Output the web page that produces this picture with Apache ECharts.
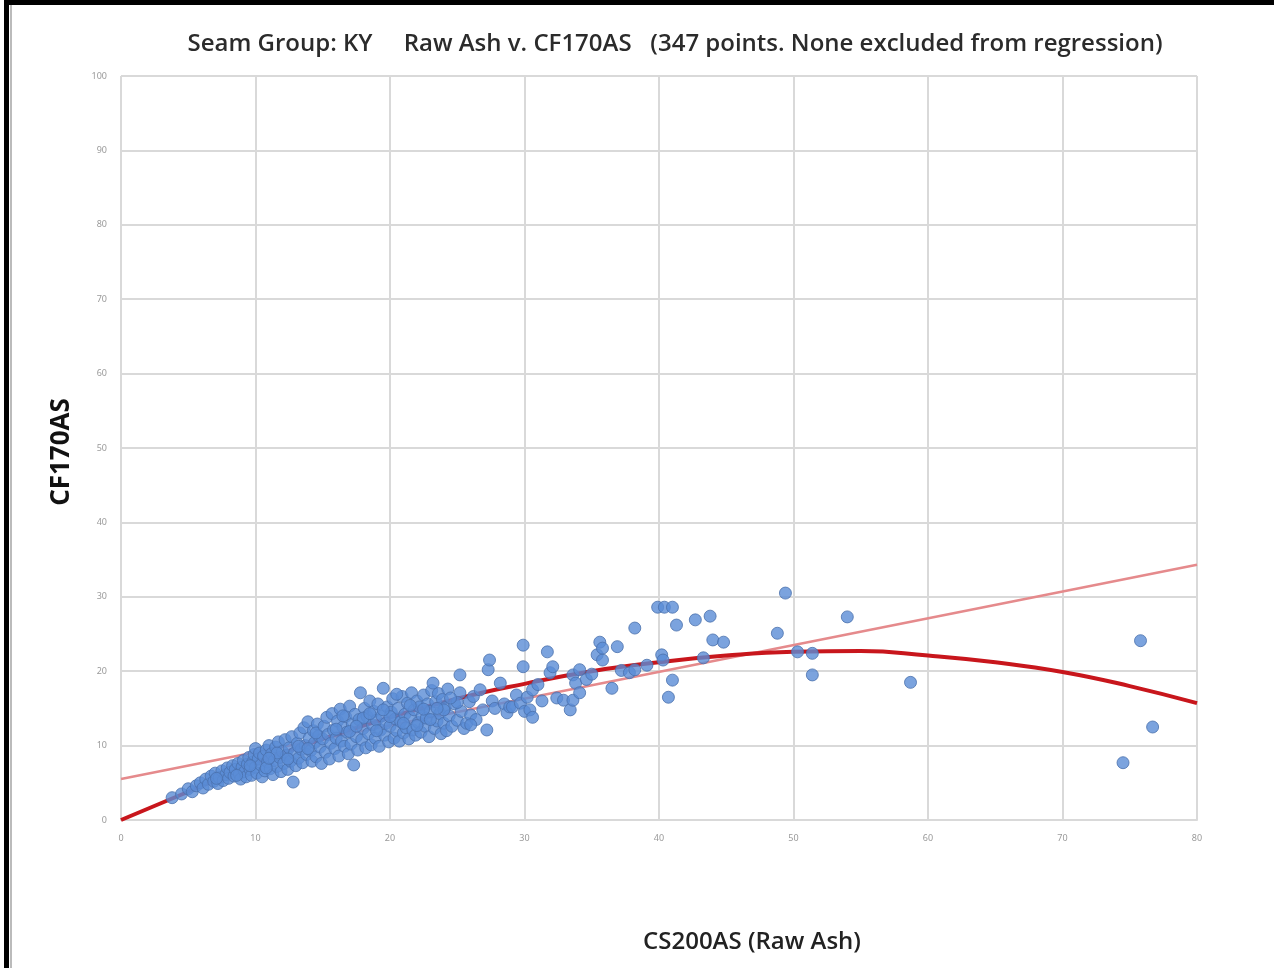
<!DOCTYPE html>
<html>
<head>
<meta charset="utf-8">
<script src="https://cdn.jsdelivr.net/npm/echarts@6/dist/echarts.min.js"></script>
<style>
html,body{margin:0;padding:0;background:#fff;}
#chart{width:1274px;height:968px;}
</style>
</head>
<body>
<div id="chart"></div>
<script>
// Tick labels
const xTicks = [0, 10, 20, 30, 40, 50, 60, 70, 80];
const yTicks = [0, 10, 20, 30, 40, 50, 60, 70, 80, 90, 100];

// Scatter data: [CS200AS (Raw Ash), CF170AS]
const pointsLow = [
[3.8,3.0],[4.5,3.5],[5.0,4.2],[5.3,3.8],[5.6,4.6],[5.9,5.0],[6.1,4.3],[6.3,5.5],[6.5,4.8],[6.7,5.9],
[6.9,5.2],[7.0,6.3],[7.2,4.9],[7.3,5.7],[7.5,6.6],[7.6,5.3],[7.8,6.1],[7.9,7.0],[8.0,5.6],[8.1,6.4],
[8.3,7.3],[8.4,5.9],[8.5,6.8],[8.7,7.6],[8.8,6.2],[8.9,5.5],[9.0,7.1],[9.1,8.0],[9.2,6.5],[9.3,5.8],
[9.4,7.5],[9.5,8.4],[9.6,6.8],[9.7,6.0],[9.8,7.8],[9.9,8.8],[10.0,7.1],[10.0,9.6],[10.1,6.3],[10.2,8.2],
[10.3,9.0],[10.4,7.4],[10.5,5.8],[10.6,8.6],[10.7,6.6],[10.8,9.4],[10.9,7.8],[11.0,10.0],[11.1,6.9],[11.2,8.9],
[11.3,6.1],[11.4,8.0],[11.5,9.8],[11.6,7.2],[11.7,10.5],[11.8,8.4],[11.9,6.5],[12.0,9.2],[12.1,7.6],[12.2,10.8],
[12.3,8.7],[12.4,6.8],[12.5,9.7],[12.6,7.9],[12.7,11.2],[12.8,5.1],[12.9,9.0],[13.0,7.3],[13.1,10.3],[13.2,8.3],
[13.3,11.7],[13.4,9.5],[13.5,7.7],[13.6,12.4],[13.7,10.0],[13.8,8.8],[13.9,13.2],[14.0,11.0],[14.1,9.3],[14.2,7.9],
[14.3,12.0],[14.4,10.4],[14.5,8.5],[14.6,12.9],[14.7,11.3],[14.8,9.8],[14.9,7.6],[15.0,10.9],
[9.6,7.3],[10.8,7.0],[11.6,9.0],[12.4,8.2],[13.2,9.9],[13.9,9.6],[14.5,11.7],[8.6,6.0],[7.1,5.6],[11.0,8.3]
];
const pointsMid = [
[15.1,12.6],[15.2,9.1],[15.3,13.8],[15.4,11.5],[15.5,8.2],[15.6,10.3],[15.7,14.3],[15.8,12.1],[15.9,9.6],[16.0,11.0],
[16.1,13.3],[16.2,8.6],[16.3,14.9],[16.4,10.6],[16.5,12.5],[16.6,9.9],[16.7,13.9],[16.8,11.8],[16.9,8.9],[17.0,15.3],
[17.1,10.2],[17.2,12.9],[17.3,7.4],[17.4,14.2],[17.5,11.2],[17.6,9.4],[17.7,13.5],[17.8,17.1],[17.9,10.8],[18.0,12.3],
[18.1,15.0],[18.2,9.7],[18.3,13.9],[18.4,11.6],[18.5,16.0],[18.6,10.1],[18.7,12.8],[18.8,14.6],[18.9,11.0],[19.0,13.4],
[19.1,15.6],[19.2,9.9],[19.3,12.1],[19.4,14.0],[19.5,17.7],[19.6,11.4],[19.7,13.0],[19.8,15.2],[19.9,10.5],[20.0,12.6],
[20.1,14.5],[20.2,16.3],[20.3,11.0],[20.4,13.6],[20.5,12.0],[20.6,15.0],[20.7,10.6],[20.8,13.2],[20.9,16.6],[21.0,11.7],
[21.1,14.2],[21.2,12.4],[21.3,15.7],[21.4,10.9],[21.5,13.8],[21.6,17.1],[21.7,12.1],[21.8,14.8],[21.9,11.4],[22.0,16.0],
[22.1,13.1],[22.2,15.2],[22.3,11.8],[22.4,14.0],[22.5,16.8],[22.6,12.6],[22.7,13.7],[22.8,15.6],[22.9,11.2],[23.0,14.6],
[23.1,17.4],[23.2,18.4],[23.3,12.3],[23.4,15.9],[23.5,13.3],[23.6,17.0],[23.7,14.3],[23.8,11.6],[23.9,16.2],[24.0,13.0],
[24.1,15.1],[24.2,12.0],[24.3,17.6],[24.4,14.0],[24.6,12.6],[24.8,15.6],[25.0,13.4],[25.2,19.5],[25.2,17.1],[25.3,14.6],
[25.5,12.3],[25.7,13.0],[25.9,15.9],[26.0,14.1],[26.2,16.6],[26.4,13.5],[26.7,17.5],[26.9,14.8],[27.2,12.1],[27.3,20.2],
[27.4,21.5],[27.6,16.0],[27.8,15.0],[28.2,18.4],[28.5,15.6],[28.7,14.4],[28.9,15.2],[29.1,15.2],[29.4,16.8],[29.7,15.7],
[29.9,20.6],[29.9,23.5],[30.0,14.6],
[16.0,12.2],[17.0,11.9],[18.0,13.7],[19.0,12.0],[20.0,13.9],[21.0,13.0],[22.0,12.7],[23.0,13.5],[24.0,14.8],[25.0,15.8],
[16.5,14.0],[18.5,14.3],[20.5,16.9],[22.5,14.9],[24.5,16.4],[26.0,12.8],[17.5,12.6],[19.5,14.8],[21.5,15.4],[23.5,15.0]
];
const pointsHigh = [
[30.2,16.5],[30.4,14.8],[30.6,17.5],[30.6,13.8],[31.0,18.2],[31.3,16.0],[31.7,22.6],[31.9,19.8],[32.1,20.6],[32.4,16.4],
[32.9,16.1],[33.4,14.8],[33.6,16.1],[33.6,19.5],[33.8,18.4],[34.1,17.1],[34.1,20.2],[34.6,18.9],[35.0,19.6],[35.4,22.2],
[35.6,23.9],[35.8,21.5],[35.8,23.1],[36.5,17.7],[36.9,23.3],[37.2,20.1],[37.8,19.8],[38.2,20.2],[38.2,25.8],[39.1,20.8],
[39.9,28.6],[40.2,22.2],[40.3,21.5],[40.4,28.6],[40.7,16.5],[41.0,18.8],[41.0,28.6],[41.3,26.2],[42.7,26.9],[43.3,21.8],
[43.8,27.4],[44.0,24.2],[44.8,23.9],[48.8,25.1],[49.4,30.5],[50.3,22.6],[51.4,22.4],[51.4,19.5],[54.0,27.3],[58.7,18.5],
[74.5,7.7],[75.8,24.1],[76.7,12.5]
];

// Trend lines
const linearTrend = [[0, 5.5], [80, 34.3]];
const polyX = [0, 5, 10, 15, 20, 25, 30, 35, 40, 45, 50, 55, 60, 65, 70, 75, 80];
const polyY = [0.0, 3.8, 7.6, 10.9, 13.8, 16.3, 18.3, 20.0, 21.2, 22.1, 22.6, 22.7, 22.1, 21.2, 19.9, 18.0, 15.7];

const titleText = 'Seam Group: KY     Raw Ash v. CF170AS   (347 points. None excluded from regression)';
const xName = 'CS200AS (Raw Ash)';
const yName = 'CF170AS';

const allPoints = pointsLow.concat(pointsMid, pointsHigh);
const polyData = polyX.map((x, i) => [x, polyY[i]]);

const chart = echarts.init(document.getElementById('chart'));
const gridColor = '#d9d9d9';
chart.setOption({
  backgroundColor: '#ffffff',
  animation: false,
  title: {
    text: titleText,
    left: 670, top: 27, textAlign: 'center',
    textStyle: { fontFamily: 'Open Sans', fontSize: 24, fontWeight: 600, color: '#2b2b2b' }
  },
  grid: { left: 121, right: 77, top: 76, bottom: 148, containLabel: false },
  xAxis: {
    type: 'value', min: 0, max: 80, interval: 10,
    axisLine: { show: true, lineStyle: { color: gridColor, width: 2 } },
    axisTick: { show: false },
    splitLine: { show: true, lineStyle: { color: gridColor, width: 2 } },
    axisLabel: { color: '#9a9a9a', fontSize: 9, margin: 14, fontFamily: 'Noto Sans' }
  },
  yAxis: {
    type: 'value', min: 0, max: 100, interval: 10,
    axisLine: { show: false },
    axisTick: { show: false },
    splitLine: { show: true, lineStyle: { color: gridColor, width: 2 } },
    axisLabel: { color: '#9a9a9a', fontSize: 9, margin: 14, fontFamily: 'Noto Sans' }
  },
  graphic: [
    { type: 'rect', shape: { x: 4, y: 0, width: 5, height: 968 }, style: { fill: '#000' }, z: 100 },
    { type: 'rect', shape: { x: 4, y: 0, width: 1270, height: 5 }, style: { fill: '#000' }, z: 100 },
    { type: 'rect', shape: { x: 10, y: 5, width: 2, height: 963 }, style: { fill: '#bbbbbb' }, z: 100 },
    { type: 'text', rotation: Math.PI / 2,
      style: { text: yName, font: 'bold 26px "Open Sans"', fill: '#111', textAlign: 'center', textVerticalAlign: 'middle' },
      x: 62, y: 452, z: 100 },
    { type: 'text', x: 752, y: 942,
      style: { text: xName, font: '600 24px "Open Sans"', fill: '#222', textAlign: 'center', textVerticalAlign: 'middle' }, z: 100 }
  ],
  series: [
    {
      type: 'line', data: linearTrend, showSymbol: false, symbol: 'none',
      lineStyle: { color: '#e58a8c', width: 2.5 }, z: 3
    },
    {
      type: 'line', data: polyData, smooth: true, showSymbol: false, symbol: 'none',
      lineStyle: { color: '#c8161c', width: 4 }, z: 3
    },
    {
      type: 'scatter', data: allPoints, symbol: 'circle', symbolSize: 12,
      itemStyle: { color: '#5a8cd6', borderColor: '#4a70ad', borderWidth: 1 }, z: 4
    }
  ]
});
</script>
</body>
</html>
